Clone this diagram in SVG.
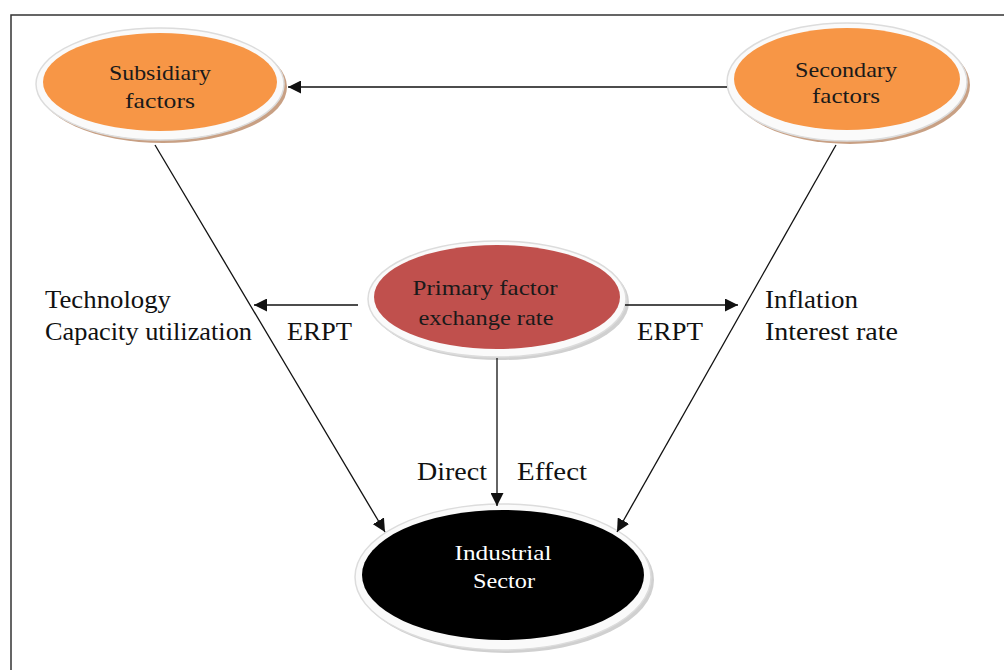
<svg xmlns="http://www.w3.org/2000/svg" width="1004" height="670" viewBox="0 0 1004 670">
<defs>
<style>
.t{font-family:"Liberation Serif","Times New Roman",serif;font-size:25px;fill:#111}
.n{font-family:"Liberation Serif","Times New Roman",serif;font-size:22px;fill:#1a1a1a;text-anchor:middle}
.ring{fill:#fafafa;stroke:#dcdcdc;stroke-width:1.5}
.ln{stroke:#111;stroke-width:1.3;fill:none;marker-end:url(#ah)}
</style>
<marker id="ah" viewBox="0 0 10 10" refX="10" refY="5" markerWidth="13" markerHeight="13" markerUnits="userSpaceOnUse" orient="auto">
<path d="M0,0 L10,5 L0,10 z" fill="#111"/>
</marker>
</defs>
<rect width="1004" height="670" fill="#fff"/>
<rect x="11" y="15" width="1010" height="680" fill="none" stroke="#333" stroke-width="1.5"/>
<g id="subsidiary">
<ellipse cx="163" cy="87" rx="124" ry="56" fill="#c8a084"/>
<ellipse cx="160" cy="84" rx="124" ry="56" class="ring"/>
<ellipse cx="160" cy="82" rx="117" ry="49" fill="#f79646"/>
<text class="n" x="160" y="80" textLength="102" lengthAdjust="spacingAndGlyphs">Subsidiary</text>
<text class="n" x="160" y="108" textLength="70" lengthAdjust="spacingAndGlyphs">factors</text>
</g>
<g id="secondary">
<ellipse cx="850" cy="85" rx="120" ry="59" fill="#c8a084"/>
<ellipse cx="847" cy="82" rx="120" ry="59" class="ring"/>
<ellipse cx="847" cy="79" rx="113" ry="51" fill="#f79646"/>
<text class="n" x="846" y="77" textLength="102" lengthAdjust="spacingAndGlyphs">Secondary</text>
<text class="n" x="846" y="103" textLength="68" lengthAdjust="spacingAndGlyphs">factors</text>
</g>
<g id="primary">
<ellipse cx="500" cy="302" rx="129" ry="58" fill="#d0d0d0"/>
<ellipse cx="497" cy="299" rx="129" ry="58" class="ring"/>
<ellipse cx="497" cy="297" rx="123" ry="52" fill="#c0504d"/>
<text class="n" x="485" y="295" textLength="145" lengthAdjust="spacingAndGlyphs">Primary  factor</text>
<text class="n" x="486" y="325" textLength="135" lengthAdjust="spacingAndGlyphs">exchange rate</text>
</g>
<g id="industrial">
<ellipse cx="506" cy="580" rx="148" ry="73" fill="#d0d0d0"/>
<ellipse cx="503" cy="577" rx="148" ry="73" class="ring"/>
<ellipse cx="503" cy="575" rx="141" ry="65" fill="#000"/>
<text class="n" x="503" y="560" style="fill:#fff" textLength="97" lengthAdjust="spacingAndGlyphs">Industrial</text>
<text class="n" x="504" y="588" style="fill:#fff" textLength="62" lengthAdjust="spacingAndGlyphs">Sector</text>
</g>
<g id="connectors">
<line class="ln" x1="727" y1="87" x2="288" y2="87"/>
<line class="ln" x1="155" y1="145" x2="385" y2="532"/>
<line class="ln" x1="836" y1="145" x2="617" y2="532"/>
<line class="ln" x1="497" y1="358" x2="497" y2="506"/>
<line class="ln" x1="358" y1="305" x2="254" y2="305"/>
<line class="ln" x1="625" y1="305" x2="738" y2="305"/>
</g>
<g id="labels">
<text class="t" x="45" y="308" textLength="126" lengthAdjust="spacingAndGlyphs">Technology</text>
<text class="t" x="45" y="340" textLength="207" lengthAdjust="spacingAndGlyphs">Capacity utilization</text>
<text class="t" x="287" y="340" textLength="65" lengthAdjust="spacingAndGlyphs">ERPT</text>
<text class="t" x="637" y="340" textLength="66" lengthAdjust="spacingAndGlyphs">ERPT</text>
<text class="t" x="765" y="308" textLength="93" lengthAdjust="spacingAndGlyphs">Inflation</text>
<text class="t" x="765" y="340" textLength="133" lengthAdjust="spacingAndGlyphs">Interest rate</text>
<text class="t" x="417" y="480" textLength="70" lengthAdjust="spacingAndGlyphs">Direct</text>
<text class="t" x="517" y="480" textLength="70" lengthAdjust="spacingAndGlyphs">Effect</text>
</g>
</svg>
